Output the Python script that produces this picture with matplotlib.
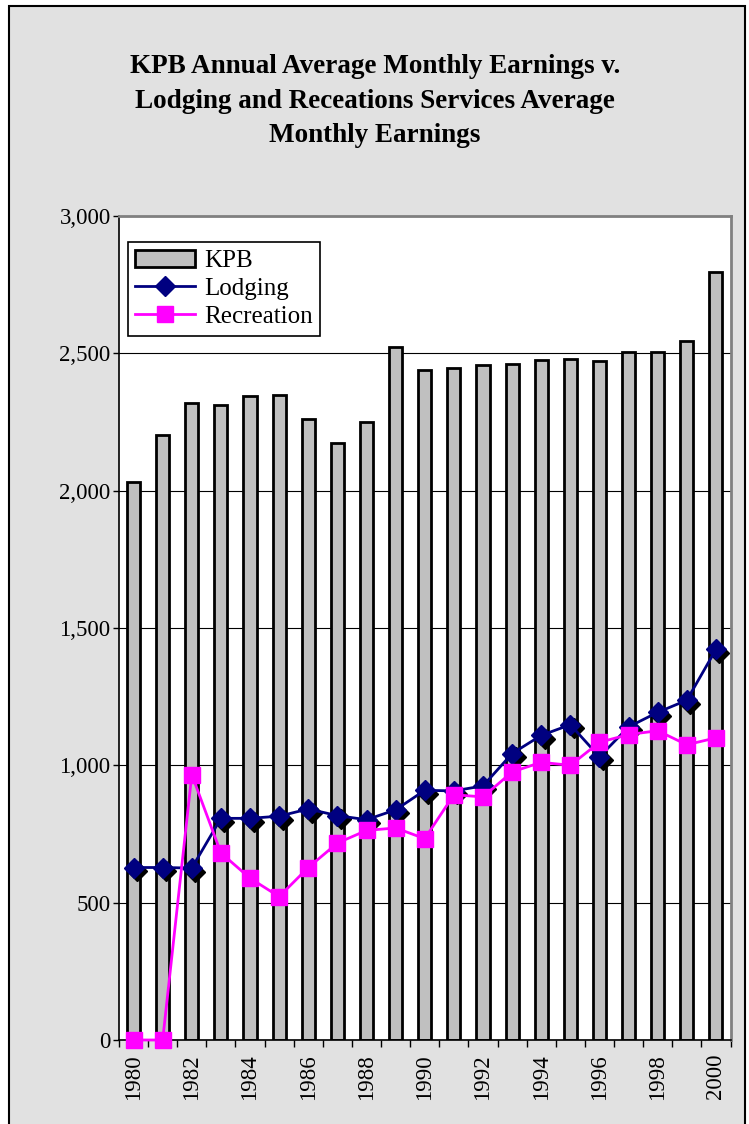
import matplotlib
matplotlib.use("Agg")
import matplotlib.pyplot as plt
import matplotlib.transforms as mtransforms
from matplotlib.patches import Rectangle
from matplotlib.ticker import FuncFormatter, FixedLocator
import numpy as np

years = list(range(1980, 2001))
kpb = [2033, 2203, 2318, 2311, 2343, 2348, 2260, 2173, 2250, 2522, 2441,
       2445, 2458, 2460, 2474, 2478, 2473, 2506, 2506, 2546, 2796]
lodging = [628, 628, 626, 807, 807, 815, 841, 817, 802, 838, 909,
           907, 925, 1043, 1109, 1148, 1031, 1140, 1193, 1237, 1422]
recreation = [0, 0, 966, 681, 589, 522, 628, 717, 763, 772, 733,
              893, 885, 976, 1011, 1000, 1084, 1112, 1126, 1075, 1100]
year_labels = [str(y) if y % 2 == 0 else "" for y in years]
title = "KPB Annual Average Monthly Earnings v.\nLodging and Receations Services Average\nMonthly Earnings"

W, H = 749, 1124
fig = plt.figure(figsize=(W / 100, H / 100), dpi=100, facecolor="white")
plt.rcParams['font.family'] = ['Liberation Serif', 'DejaVu Serif']

# outer chart area
fig.patches.append(Rectangle((9 / W, -0.05), (745 - 9) / W, 1 - 6 / H + 0.05,
                             transform=fig.transFigure, facecolor="#E1E1E1",
                             edgecolor="black", linewidth=1.5, zorder=-10))

left, right, top, bottom = 119, 730.5, 216, 1040
ax = fig.add_axes([left / W, 1 - bottom / H, (right - left) / W, (bottom - top) / H])
ax.set_facecolor("white")

x = np.arange(len(years))
h_kpb = ax.bar(x, kpb, width=0.45, color="#C0C0C0", edgecolor="black", linewidth=2,
               label="KPB", zorder=2)

shadow = mtransforms.offset_copy(ax.transData, fig=fig, x=3.5, y=-3.5, units="dots")
ax.plot(x, lodging, linestyle="none", marker="D", markersize=10.5, color="black",
        transform=shadow, zorder=3)
h_lod, = ax.plot(x, lodging, color="#000080", linewidth=2, marker="D", markersize=10.5,
                 markerfacecolor="#000080", markeredgecolor="#000080", label="Lodging",
                 zorder=4, clip_on=False)
h_rec, = ax.plot(x, recreation, color="#FF00FF", linewidth=2, marker="s", markersize=11,
                 markerfacecolor="#FF00FF", markeredgecolor="#FF00FF", label="Recreation",
                 zorder=5, clip_on=False)

ax.set_xlim(-0.5, len(years) - 0.5)
ax.set_ylim(0, 3000)
ax.set_yticks([0, 500, 1000, 1500, 2000, 2500, 3000])
ax.yaxis.set_major_formatter(FuncFormatter(lambda v, p: f"{int(v):,}"))
ax.yaxis.grid(True, color="black", linewidth=0.8, zorder=1)
ax.set_axisbelow(True)

ax.set_xticks(x)
ax.set_xticklabels(year_labels, rotation=90, fontsize=16.5)
ax.tick_params(axis="x", length=0, pad=10)
ax.xaxis.set_minor_locator(FixedLocator(np.arange(-0.5, len(years), 1.0)))
ax.tick_params(axis="x", which="minor", length=5, width=1, direction="out", color="black")
ax.tick_params(axis="y", length=4, width=1, direction="out", labelsize=16.5, pad=2)

for s in ["top", "right"]:
    ax.spines[s].set_color("#808080")
    ax.spines[s].set_linewidth(2)
ax.spines["left"].set_color("black")
ax.spines["bottom"].set_color("black")
ax.spines["left"].set_linewidth(1.2)
ax.spines["bottom"].set_linewidth(1.2)

leg = ax.legend(handles=[h_kpb, h_lod, h_rec], labels=["KPB", "Lodging", "Recreation"],
                loc="upper left", bbox_to_anchor=(9 / 611.5, 1 - 26 / 824), fontsize=18,
                frameon=True, fancybox=False, edgecolor="black", framealpha=1,
                borderpad=0.3, labelspacing=0.22, handlelength=2.4, handletextpad=0.35,
                borderaxespad=0)
leg.get_frame().set_linewidth(1.2)

fig.text(375 / W, 1 - 101 / H, title, ha="center", va="center", fontsize=19.5,
         fontweight="bold", linespacing=1.5)

fig.savefig("out.png", dpi=100, facecolor="white")
